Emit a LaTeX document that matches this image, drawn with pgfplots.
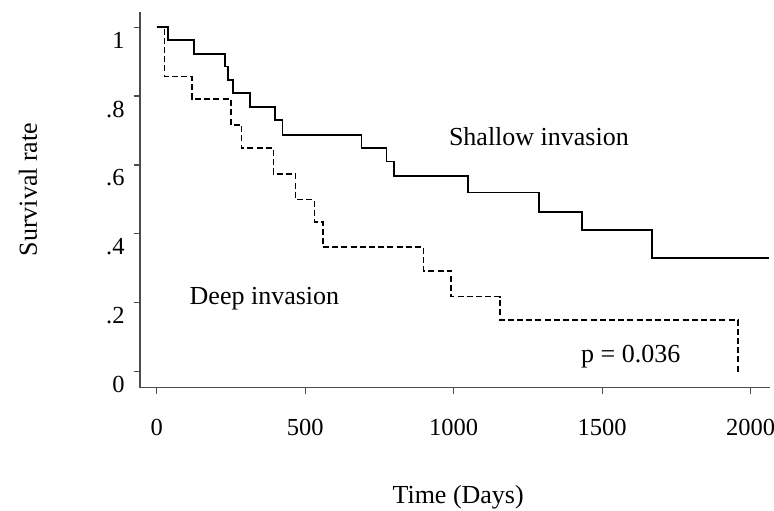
\documentclass[border=0pt]{standalone}
\usepackage{fontspec}
\setmainfont{Liberation Serif}
\usepackage{pgfplots}
\pgfplotsset{compat=1.18}

\begin{document}
\begin{tikzpicture}[x=1pt,y=1pt]
% fix the page to the reference's frame (axis box corner at the origin)
\useasboundingbox (-70,-61.25) rectangle (317,193.75);
\begin{axis}[
    at={(0,0)}, anchor=south west,
    scale only axis, width=315pt, height=187.9pt,
    xmin=-56, xmax=2065, ymin=-0.046, ymax=1.045,
    axis x line=bottom, axis y line=left,
    axis line style={-, line width=0.75pt, gray!60!black},
    tick align=outside, major tick length=3.2pt,
    tick style={line width=0.6pt, gray!60!black},
    xtick={0,500,1000,1500,2000},
    xticklabels={0,500,1000,1500,2000},
    ytick={0,0.2,0.4,0.6,0.8,1},
    yticklabels={0,.2,.4,.6,.8,1},
    ticklabel style={font=\fontsize{12.25}{14}\selectfont},
    xticklabel style={yshift=-9pt},
    yticklabel style={xshift=-1pt, yshift=-6.5pt},
    xlabel={Time (Days)}, ylabel={Survival rate},
    label style={font=\fontsize{13}{15}\selectfont},
    xlabel style={at={(axis description cs:0.505,-0.291)}, anchor=center},
    ylabel style={at={(axis description cs:-0.178,0.527)}, anchor=center},
    clip=false,
]
% shallow invasion
\addplot[const plot, black, line width=0.9pt] coordinates {
    (0,1) (39,0.962) (126,0.923) (230,0.886) (239,0.847) (257,0.810)
    (314,0.768) (398,0.731) (424,0.687) (690,0.650) (774,0.610)
    (800,0.569) (1049,0.520) (1288,0.464) (1431,0.411) (1669,0.331)
    (2062,0.331)
};
% deep invasion
\addplot[const plot, black, line width=0.85pt, dash pattern=on 3pt off 1.6pt] coordinates {
    (0,1) (26,0.857) (118,0.791) (250,0.716) (286,0.649) (393,0.574)
    (468,0.500) (531,0.435) (559,0.361) (898,0.293) (991,0.218)
    (1156,0.150) (1958,0)
};
\node[anchor=base, font=\fontsize{13}{15}\selectfont] at (axis cs:1287,0.658) {Shallow invasion};
\node[anchor=base, font=\fontsize{13}{15}\selectfont] at (axis cs:363,0.1955) {Deep invasion};
\node[anchor=base, font=\fontsize{13}{15}\selectfont] at (axis cs:1596,0.026) {p = 0.036};
\end{axis}
\end{tikzpicture}
\end{document}
